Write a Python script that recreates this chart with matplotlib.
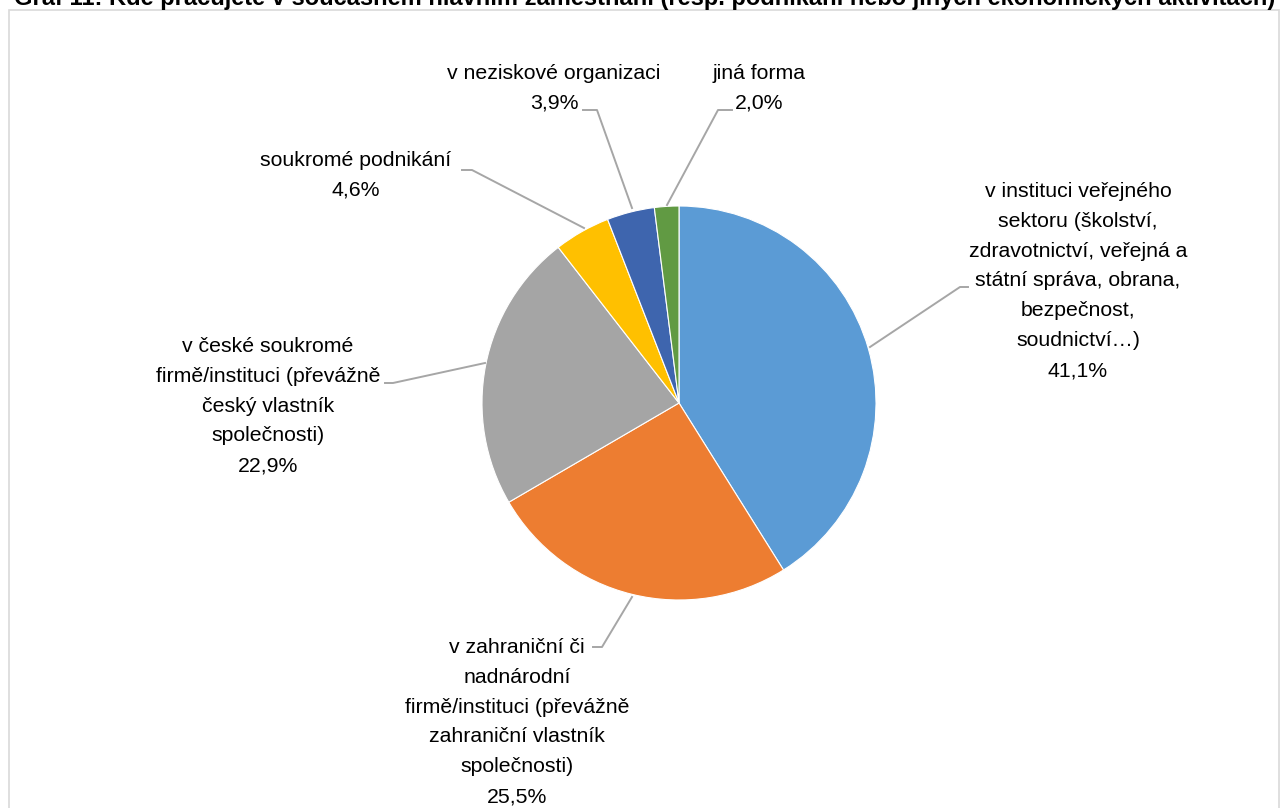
import matplotlib
matplotlib.use('Agg')
import matplotlib.pyplot as plt
from matplotlib.patches import Rectangle

plt.rcParams['font.family'] = ['Liberation Sans Narrow', 'Liberation Sans', 'DejaVu Sans']

# data
labels = ['v instituci veřejného\nsektoru (školství,\nzdravotnictví, veřejná a\nstátní správa, obrana,\nbezpečnost,\nsoudnictví…)',
          'v zahraniční či\nnadnárodní\nfirmě/instituci (převážně\nzahraniční vlastník\nspolečnosti)',
          'v české soukromé\nfirmě/instituci (převážně\nčeský vlastník\nspolečnosti)',
          'soukromé podnikání',
          'v neziskové organizaci',
          'jiná forma']
values = [41.1, 25.5, 22.9, 4.6, 3.9, 2.0]
colors = ['#5B9BD5', '#ED7D31', '#A5A5A5', '#FFC000', '#3E65AE', '#619A43']
title = 'Graf 11: Kde pracujete v současném hlavním zaměstnání (resp. podnikání nebo jiných ekonomických aktivitách)'

W, H = 1284, 808
fig = plt.figure(figsize=(W / 100, H / 100), dpi=100)
ax = fig.add_axes([0, 0, 1, 1])


def Y(py):
    return H - py


ax.pie(values, colors=colors, startangle=90, counterclock=False, center=(679, Y(403)),
       radius=197, wedgeprops=dict(edgecolor='white', linewidth=0.8), frame=True)
ax.set_xlim(0, W)
ax.set_ylim(0, H)
ax.set_aspect('equal')
ax.axis('off')

# frame
ax.add_patch(Rectangle((9, Y(860)), 1270, 860 - 10, fill=False, edgecolor='#D9D9D9', linewidth=1.2))

# label centre positions (px) and leader lines (px)
pos = [(1078, 281), (517, 722), (268, 406), (356, 175), (554, 88), (759, 88)]
leaders = [[(870, 347), (960, 287), (968, 287)],
           [(632, 597), (602, 647), (593, 647)],
           [(485, 363), (393, 383), (385, 383)],
           [(584, 228), (472, 170), (462, 170)],
           [(632, 208), (597, 110), (583, 110)],
           [(667, 205), (718, 110), (732, 110)]]

for lab, v, (px, py), ln in zip(labels, values, pos, leaders):
    txt = lab + '\n' + ('%.1f%%' % v).replace('.', ',')
    ax.text(px, Y(py), txt, ha='center', va='center', fontsize=15.3, linespacing=1.73, color='#000000')
    ax.plot([p[0] for p in ln], [Y(p[1]) for p in ln], color='#A6A6A6', linewidth=1.4)

ax.text(645, Y(5), title, ha='center', va='baseline', fontsize=17, fontweight='bold',
        family=['Liberation Sans', 'DejaVu Sans'])

fig.savefig('out.png', dpi=100)
